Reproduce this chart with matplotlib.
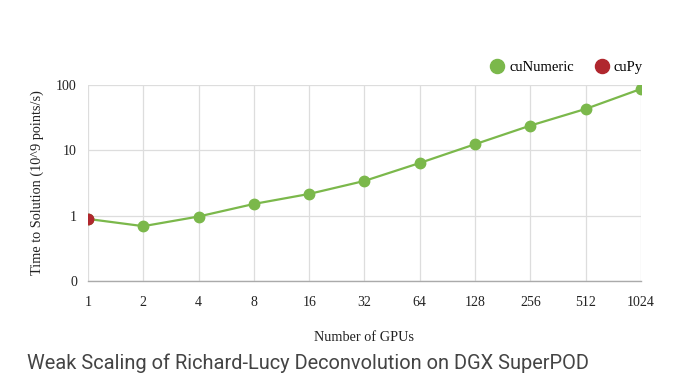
import matplotlib.pyplot as plt
from matplotlib.ticker import FixedLocator, FixedFormatter

# data
gpus = ['1', '2', '4', '8', '16', '32', '64', '128', '256', '512', '1024']
cunumeric = [0.89, 0.69, 0.97, 1.51, 2.15, 3.4, 6.4, 12.4, 23.9, 43, 87]
cupy_gpus = ['1']
cupy = [0.89]
ytick_vals = [0.1, 1, 10, 100]
ytick_labels = ['0', '1', '10', '100']

green = '#7bb84b'
red = '#b0272e'

plt.rcParams['font.family'] = ['Liberation Serif', 'DejaVu Serif']

fig = plt.figure(figsize=(6.78, 3.81), dpi=100)
ax = fig.add_axes([0.1298, 0.2625, 0.8156, 0.5145])

x = list(range(len(gpus)))
ax.plot(x, cunumeric, color=green, lw=1.6, marker='o', ms=7.5, zorder=3, label='cuNumeric')
ax.plot([gpus.index(g) for g in cupy_gpus], cupy, color=red, lw=0, marker='o', ms=7.5,
        zorder=4, label='cuPy')

ax.set_yscale('log')
ax.set_ylim(0.1, 100)
ax.set_xlim(0, len(gpus) - 1)
ax.yaxis.set_major_locator(FixedLocator(ytick_vals))
ax.yaxis.set_major_formatter(FixedFormatter(ytick_labels))
ax.yaxis.set_minor_locator(FixedLocator([]))
ax.set_xticks(x)
ax.set_xticklabels(gpus)
ax.tick_params(axis='both', length=0, labelsize=10, colors='#222222')
ax.tick_params(axis='x', pad=11)
ax.tick_params(axis='y', pad=8)

ax.grid(True, color='#dddddd', lw=0.9)
ax.set_axisbelow(True)
for s in ['top', 'right', 'left']:
    ax.spines[s].set_visible(False)
ax.spines['bottom'].set_color('#aaaaaa')
ax.spines['bottom'].set_linewidth(1.0)

ax.set_xlabel('Number of GPUs', fontsize=10.3, labelpad=16, color='#222222')
ax.set_ylabel('Time to Solution (10^9 points/s)', fontsize=10.3, labelpad=9, color='#222222')

ax.legend(loc='lower right', bbox_to_anchor=(1.014, 1.025), ncol=2, frameon=False,
          fontsize=10.5, markerscale=1.35, handlelength=0.8, handletextpad=0.4,
          columnspacing=1.55, borderaxespad=0)

fig.text(0.04, 0.031, 'Weak Scaling of Richard-Lucy Deconvolution on DGX SuperPOD',
         fontsize=14.4, family=['Roboto', 'DejaVu Sans'], color='#444444')

fig.savefig('out.png', dpi=100)
